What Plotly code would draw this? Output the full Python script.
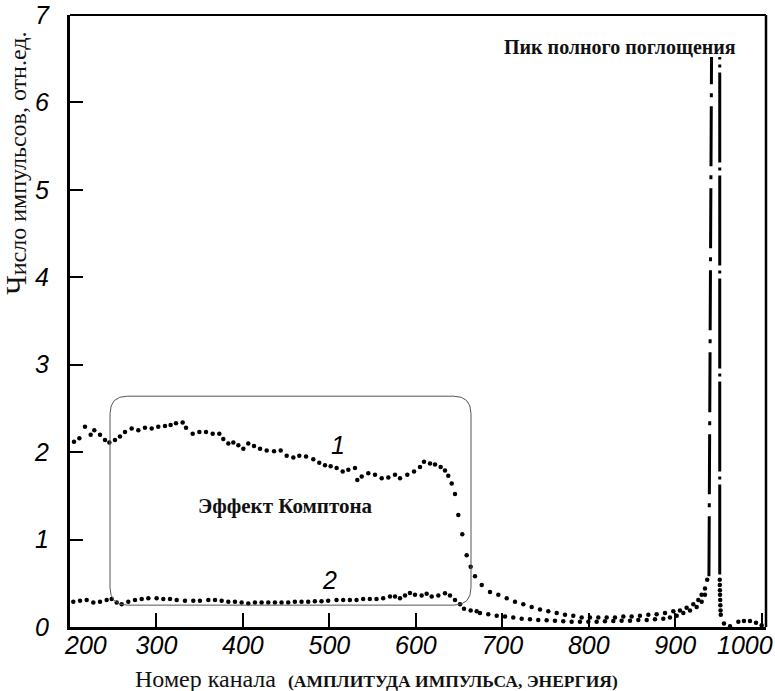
import plotly.graph_objects as go

# ---------------- data ----------------
# Curve 1 (upper dotted spectrum)
s1_x = [204.6, 210.8, 217.3, 223.9, 228.1, 234.7, 240.5, 245.5, 252.0, 257.8, 263.6, 271.3, 279.0,
        286.7, 294.5, 302.1, 309.9, 316.4, 322.6, 330.3, 334.2, 341.9, 349.6, 357.3, 365.0, 372.7,
        377.3, 383.1, 388.9, 394.7, 400.5, 406.2, 412.8, 419.8, 427.5, 436.0, 443.7, 450.6, 458.3,
        465.2, 473.0, 481.4, 488.3, 494.9, 501.5, 508.4, 515.4, 521.9, 529.6, 532.3, 537.4, 545.0,
        552.8, 560.5, 568.2, 575.9, 581.7, 590.1, 597.9, 604.8, 609.4, 616.4, 622.2, 628.7, 633.7,
        637.5, 641.5, 645.3, 649.1, 653.7, 658.8, 663.4, 668.4, 676.2, 685.8, 695.4, 705.1, 714.7,
        724.3, 734.0, 743.6, 753.2, 762.9, 772.5, 782.1, 791.8, 801.4, 811.0, 820.7, 830.3, 840.0,
        849.6, 859.2, 868.9, 878.5, 888.2, 897.8, 905.5, 913.2, 920.9, 926.7, 930.5, 934.4, 937.0]
s1_y = [2.12, 2.16, 2.29, 2.20, 2.25, 2.20, 2.14, 2.11, 2.14, 2.18, 2.23, 2.27, 2.25,
        2.28, 2.27, 2.29, 2.30, 2.31, 2.33, 2.34, 2.28, 2.21, 2.23, 2.23, 2.21, 2.21,
        2.15, 2.10, 2.11, 2.08, 2.04, 2.10, 2.07, 2.04, 2.02, 2.01, 2.02, 1.96, 1.94,
        1.96, 1.95, 1.92, 1.88, 1.85, 1.84, 1.82, 1.78, 1.80, 1.82, 1.68, 1.72, 1.76,
        1.74, 1.70, 1.71, 1.74, 1.70, 1.74, 1.78, 1.83, 1.89, 1.87, 1.86, 1.83, 1.79,
        1.73, 1.64, 1.52, 1.28, 1.06, 0.82, 0.69, 0.58, 0.48, 0.40, 0.37, 0.33, 0.29,
        0.26, 0.23, 0.20, 0.18, 0.16, 0.14, 0.13, 0.11, 0.11, 0.11, 0.11, 0.11, 0.12,
        0.12, 0.13, 0.14, 0.145, 0.16, 0.18, 0.19, 0.22, 0.26, 0.31, 0.37, 0.44, 0.54]
# Curve 1 full-absorption peak (truncated at top of drawing)
p1_x = [939.0, 942.0]
p1_y = [0.58, 6.52]

# Curve 2 (lower dotted spectrum)
s2_x = [203.8, 211.6, 219.3, 227.0, 234.7, 242.4, 248.2, 254.0, 259.8, 267.4, 275.2, 282.9, 290.6,
        300.2, 307.9, 315.7, 323.4, 333.0, 342.6, 350.3, 360.0, 367.7, 375.4, 383.1, 390.8, 398.5,
        406.2, 413.9, 421.6, 429.3, 437.0, 444.7, 452.4, 460.1, 467.8, 475.5, 483.2, 490.9, 498.6,
        508.3, 516.0, 523.7, 531.4, 539.1, 546.8, 554.5, 562.2, 570.1, 575.9, 581.7, 587.5, 593.2,
        599.0, 606.7, 612.5, 618.3, 626.0, 633.7, 639.5, 645.3, 651.1, 655.7, 663.4, 670.4, 674.2,
        683.8, 693.5, 703.1, 712.7, 722.4, 732.0, 741.6, 751.3, 760.9, 770.5, 780.2, 789.8, 799.5,
        809.1, 818.7, 828.4, 838.0, 847.7, 857.3, 867.0, 876.6, 886.2, 893.9, 901.7, 909.4, 917.1,
        924.8, 930.6, 934.4]
s2_y = [0.29, 0.30, 0.31, 0.28, 0.29, 0.31, 0.32, 0.28, 0.26, 0.29, 0.31, 0.32, 0.33,
        0.33, 0.32, 0.32, 0.31, 0.30, 0.30, 0.30, 0.31, 0.31, 0.30, 0.29, 0.29, 0.28,
        0.27, 0.28, 0.28, 0.28, 0.28, 0.28, 0.28, 0.29, 0.29, 0.29, 0.295, 0.295, 0.30,
        0.31, 0.31, 0.31, 0.31, 0.32, 0.32, 0.32, 0.33, 0.35, 0.35, 0.33, 0.36, 0.39,
        0.37, 0.36, 0.38, 0.35, 0.36, 0.385, 0.36, 0.31, 0.26, 0.21, 0.19, 0.18, 0.16,
        0.145, 0.13, 0.12, 0.11, 0.095, 0.09, 0.08, 0.077, 0.072, 0.065, 0.06, 0.06, 0.06,
        0.06, 0.065, 0.07, 0.072, 0.072, 0.08, 0.08, 0.09, 0.095, 0.11, 0.13, 0.16, 0.19,
        0.23, 0.29, 0.37]
# Curve 2 full-absorption peak (truncated) and its falling edge / tail
p2_x = [951.5, 951.5]
p2_y = [0.60, 6.52]
t2_x = [951.5, 951.6, 951.7, 951.8, 952.0, 952.2, 952.4, 952.7, 956.4, 963.4, 973.0, 979.5, 986.5, 993.4, 1000.0]
t2_y = [0.54, 0.48, 0.42, 0.37, 0.31, 0.25, 0.19, 0.14, 0.04, 0.01, 0.06, 0.07, 0.07, 0.05, 0.02]

x_ticks = [200, 300, 400, 500, 600, 700, 800, 900, 1000]
x_tick_labels = ["200", "300", "400", "500", "600", "700", "800", "900", "1000"]
y_ticks = [0, 1, 2, 3, 4, 5, 6, 7]

# Compton region frame (data units) and labels
box_x0, box_x1, box_y0, box_y1 = 246.3, 663.8, 0.25, 2.64
box_rx, box_ry = 20.0, 0.20

TICKFONT = "Noto Sans ExtraCondensed, Noto Sans Condensed, Liberation Sans Narrow, Liberation Sans, sans-serif"
SERIF = "Liberation Serif, Times New Roman, serif"

fig = go.Figure()
dot = dict(size=4.5, color="black")
fig.add_trace(go.Scatter(x=s1_x, y=s1_y, mode="markers", marker=dot, showlegend=False))
fig.add_trace(go.Scatter(x=s2_x, y=s2_y, mode="markers", marker=dot, showlegend=False))
fig.add_trace(go.Scatter(x=t2_x, y=t2_y, mode="markers", marker=dot, showlegend=False))
fig.add_trace(go.Scatter(x=p1_x, y=p1_y, mode="lines",
                         line=dict(color="black", width=3, dash="60px,9px,4px,9px"), showlegend=False))
fig.add_trace(go.Scatter(x=p2_x, y=p2_y, mode="lines",
                         line=dict(color="black", width=3, dash="90px,5px,3px,5px"), showlegend=False))

# rounded rectangle
path = (f"M {box_x0+box_rx},{box_y1} L {box_x1-box_rx},{box_y1} "
        f"Q {box_x1},{box_y1} {box_x1},{box_y1-box_ry} L {box_x1},{box_y0+box_ry} "
        f"Q {box_x1},{box_y0} {box_x1-box_rx},{box_y0} L {box_x0+box_rx},{box_y0} "
        f"Q {box_x0},{box_y0} {box_x0},{box_y0+box_ry} L {box_x0},{box_y1-box_ry} "
        f"Q {box_x0},{box_y1} {box_x0+box_rx},{box_y1} Z")
fig.add_shape(type="path", path=path, xref="x", yref="y", line=dict(color="#555", width=1))
# top and right frame lines
fig.add_shape(type="line", xref="paper", yref="paper", x0=0, x1=1, y0=1, y1=1,
              line=dict(color="black", width=2))
fig.add_shape(type="line", xref="paper", yref="paper", x0=1, x1=1, y0=0, y1=1,
              line=dict(color="black", width=2.5))

tickfont = dict(family=TICKFONT, size=25, color="black", style="italic")
ann = []
# end tick labels are nudged inward as in the original drawing
ann.append(dict(x=x_ticks[0], y=0, xref="x", yref="paper", text=x_tick_labels[0], showarrow=False,
                xanchor="center", yanchor="middle", xshift=15, yshift=-18, font=tickfont))
ann.append(dict(x=x_ticks[-1], y=0, xref="x", yref="paper", text=x_tick_labels[-1], showarrow=False,
                xanchor="center", yanchor="middle", xshift=-17, yshift=-18, font=tickfont))
ann.append(dict(x=448.7, y=1.38, xref="x", yref="y", text="<b>Эффект Комптона</b>", showarrow=False,
                font=dict(family=SERIF, size=21, color="#111")))
ann.append(dict(x=836, y=6.63, xref="x", yref="y", text="<b>Пик полного поглощения</b>", showarrow=False,
                font=dict(family=SERIF, size=20, color="#111")))
ann.append(dict(x=510, y=2.08, xref="x", yref="y", text="1", showarrow=False, font=tickfont))
ann.append(dict(x=500.7, y=0.54, xref="x", yref="y", text="2", showarrow=False, font=tickfont))
ann.append(dict(x=0.441, y=-0.0850, xref="paper", yref="paper", xanchor="center", yanchor="middle",
                text="Номер канала  <b><span style='font-size:17.5px'>(АМПЛИТУДА ИМПУЛЬСА, ЭНЕРГИЯ)</span></b>",
                showarrow=False, font=dict(family=SERIF, size=24, color="#111")))
ann.append(dict(x=-0.0775, y=0.757, xref="paper", yref="paper", xanchor="center", yanchor="middle",
                textangle=-90,
                text="<span style='font-size:30px'>Ч</span>исло импульсов, отн.ед.",
                showarrow=False, font=dict(family=SERIF, size=24, color="#111")))

axis_ticktext = [""] + x_tick_labels[1:-1] + [""]

fig.update_layout(
    width=775, height=691,
    margin=dict(l=70, r=9, t=15, b=64, autoexpand=False),
    paper_bgcolor="white", plot_bgcolor="white",
    annotations=ann,
    xaxis=dict(range=[200, 1005], tickvals=x_ticks, ticktext=axis_ticktext, automargin=False,
               showgrid=False, zeroline=False, showline=True, linecolor="black", linewidth=3,
               ticks="inside", ticklen=14, tickwidth=2, tickcolor="black",
               tickfont=tickfont, ticklabelstandoff=-6),
    yaxis=dict(range=[0, 7], tickvals=y_ticks, ticktext=[str(v) for v in y_ticks], automargin=False,
               showgrid=False, zeroline=False, showline=True, linecolor="black", linewidth=3,
               ticks="inside", ticklen=13, tickwidth=2, tickcolor="black",
               tickfont=tickfont, ticklabelstandoff=13),
)

fig.write_html("out.html")
